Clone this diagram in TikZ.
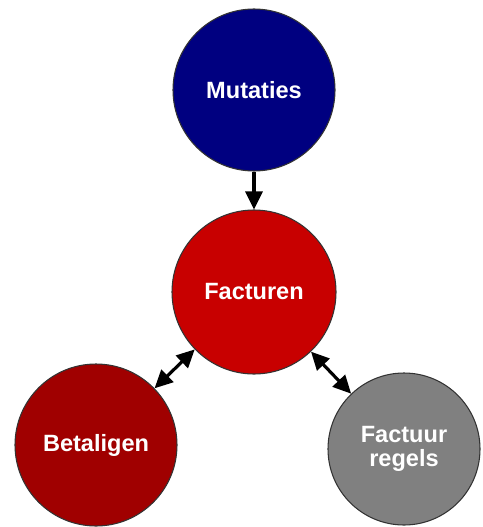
\documentclass[tikz,border=0pt]{standalone}
\usepackage{fontspec}
\setmainfont{Liberation Sans}
\usepackage{tikz}
\usetikzlibrary{arrows.meta}

\definecolor{mutblauw}{RGB}{0,0,128}
\definecolor{factrood}{RGB}{200,0,0}
\definecolor{betrood}{RGB}{160,0,0}
\definecolor{regelgrijs}{RGB}{128,128,128}

\begin{document}
\begin{tikzpicture}[
	bol/.style={circle, draw=black!80, line width=0.6pt, text=white, align=center,
		font=\fontsize{13.4}{13.7}\selectfont\bfseries, inner sep=0pt},
	pijl/.style={line width=1.8pt, black},
	punt/.tip={Triangle[length=0.36cm,width=0.34cm]}
]
	\useasboundingbox (0,0) rectangle (9.64,-10.54);
	\node[fill=mutblauw, minimum size=3.24cm] (mutaties) at (5.08,-1.80) [bol] {Mutaties};
	\node[fill=factrood, minimum size=3.28cm] (facturen) at (5.08,-5.84) [bol] {Facturen};
		\node[fill=betrood, minimum size=3.24cm] (betaligen) at (1.92,-8.90) [bol] {Betaligen};
		\node[fill=regelgrijs, minimum size=3.04cm] (regels) at (8.08,-8.98) [bol] {Factuur\\regels};
	\draw[pijl][-punt] (mutaties) to (facturen);
	\draw[pijl][punt-punt] (facturen) to (betaligen);
	\draw[pijl][punt-punt] (facturen) to (regels);
\end{tikzpicture}
\end{document}
